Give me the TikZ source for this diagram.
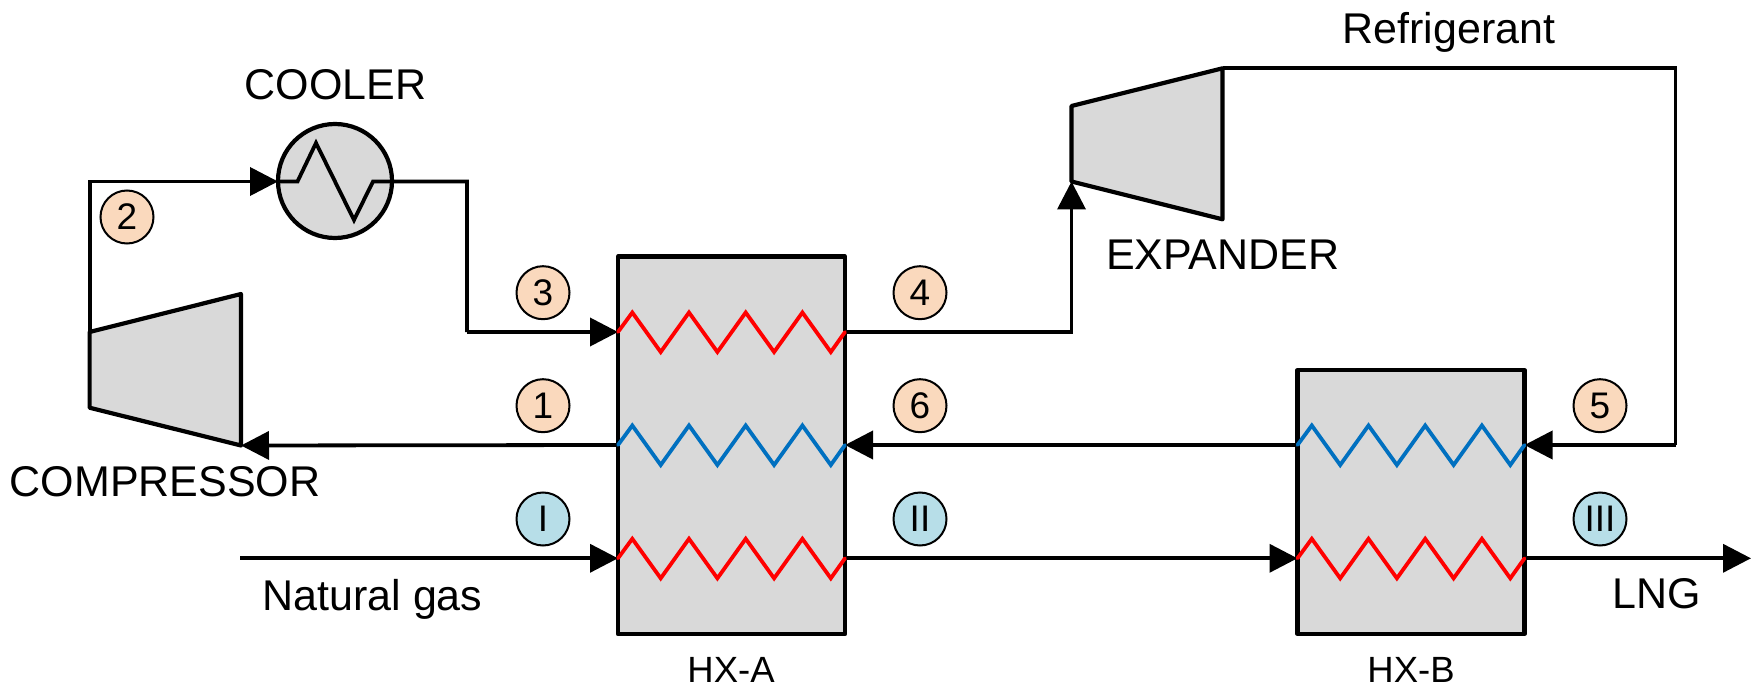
\documentclass[tikz,border=0pt]{standalone}
\usepackage{fontspec}
\setmainfont{Liberation Sans}
\usetikzlibrary{arrows.meta}
\definecolor{eqgray}{HTML}{D9D9D9}
\definecolor{tagorange}{HTML}{FAD9BD}
\definecolor{tagblue}{HTML}{B7DEE8}
\definecolor{zigred}{HTML}{FF0000}
\definecolor{zigblue}{HTML}{0070C0}
\tikzset{
  eqline/.style={draw=black,line width=4.2pt,line join=round,fill=eqgray},
  hxbox/.style={eqline,rectangle,inner sep=0pt,minimum width=227pt},
  pipe/.style={draw=black,line width=3.8pt,line join=miter},
  flow/.style={pipe,-{Triangle[length=28pt,width=28pt]}},
  zig/.style={line width=3.8pt,line join=miter,line cap=round},
  tagbase/.style={circle,draw=black,line width=2pt,minimum size=53pt,inner sep=0pt,font=\fontsize{37}{37}\selectfont},
  tagcycle/.style={tagbase,fill=tagorange},
  taggas/.style={tagbase,fill=tagblue},
  biglabel/.style={anchor=base,inner sep=0pt,font=\fontsize{43}{43}\selectfont},
  smalllabel/.style={anchor=base,inner sep=0pt,font=\fontsize{36.5}{36.5}\selectfont}
}
\newcommand{\zigpath}[2]{%
  \draw[zig,#2] (#1) -- ++(14.3,-19.5) -- ++(28.4,39.5) -- ++(28.3,-39.5) -- ++(28.4,39.5) -- ++(28.3,-39.5) -- ++(28.4,39.5) -- ++(28.3,-39.5) -- ++(28.4,39.5) -- ++(14.2,-20);}
\begin{document}
\begin{tikzpicture}[x=1pt,y=-1pt]
\useasboundingbox (0,0) rectangle (1757,687);
% equipment
\node[hxbox,minimum height=377.5pt] (hxa) at (731.5,445.3) {};
\node[hxbox,minimum height=264pt] (hxb) at (1411,502) {};
\coordinate (cpTL) at (89.6,332);
\coordinate (cpTR) at (241,294);
\coordinate (cpBR) at (241,445.5);
\coordinate (cpBL) at (89.6,407.7);
\coordinate (exTL) at (1071.5,106);
\coordinate (exTR) at (1222.5,68.3);
\coordinate (exBR) at (1222.5,219.3);
\coordinate (exBL) at (1071.5,181.5);
\draw[eqline] (cpTL) -- (cpTR) -- (cpBR) -- (cpBL) -- cycle;
\draw[eqline] (exTL) -- (exTR) -- (exBR) -- (exBL) -- cycle;
\node[circle,eqline,minimum size=114pt,inner sep=0pt] (cooler) at (335,181) {};
% ports
\coordinate (aL1) at (618,332);
\coordinate (aR1) at (845,332);
\coordinate (aL2) at (618,445);
\coordinate (aR2) at (845,445);
\coordinate (aL3) at (618,558.3);
\coordinate (aR3) at (845,558.3);
\coordinate (bL2) at (1297.5,445);
\coordinate (bR2) at (1524.5,445);
\coordinate (bL3) at (1297.5,558.3);
\coordinate (bR3) at (1524.5,558.3);
\coordinate (gasin) at (240,558.3);
\coordinate (lngout) at (1751,558.3);
\coordinate (c1) at (467,181.5);
\coordinate (c2) at (467,332);
\coordinate (c3) at (1071.5,332);
\coordinate (c4) at (1675.5,68.3);
\coordinate (c5) at (1675.5,445);
\coordinate (c6) at (89.6,181.5);
\coordinate (cin) at (278,181.5);
\coordinate (coA) at (297.5,181.5);
\coordinate (coB) at (316,143);
\coordinate (coC) at (354,220);
\coordinate (coD) at (373,181.5);
\coordinate (coE) at (392,181.5);
% connectors
\draw[flow] (cpTL) -- (c6) -- (cin);
\draw[pipe] (cin) -- (coA) -- (coB) -- (coC) -- (coD) -- (coE) -- (c1) -- (c2);
\draw[flow] (c2) -- (aL1);
\draw[flow] (aR1) -- (c3) -- (exBL);
\draw[pipe] (exTR) -- (c4) -- (c5);
\draw[flow] (c5) -- (bR2);
\draw[flow] (bL2) -- (aR2);
\draw[flow] (aL2) -- (cpBR);
\draw[flow] (gasin) -- (aL3);
\draw[flow] (aR3) -- (bL3);
\draw[flow] (bR3) -- (lngout);
% coils
\zigpath{aL1}{zigred}
\zigpath{aL2}{zigblue}
\zigpath{aL3}{zigred}
\zigpath{bL2}{zigblue}
\zigpath{bL3}{zigred}
% tags
\node[tagcycle] (t2) at (127,217) {2};
\node[tagcycle] (t3) at (543,292.7) {3};
\node[tagcycle] (t1) at (543,405.7) {1};
\node[tagcycle] (t4) at (920,292.7) {4};
\node[tagcycle] (t6) at (920,405.7) {6};
\node[tagcycle] (t5) at (1600,405.7) {5};
\node[taggas] (tI) at (543,519) {I};
\node[taggas] (tII) at (920,519) {II};
\node[taggas] (tIII) at (1600,519) {III};
% labels
\node[biglabel] (lcooler) at (335.5,100) {COOLER};
\node[biglabel] (lcomp) at (165,496) {COMPRESSOR};
\node[biglabel] (lexp) at (1222.7,269.3) {EXPANDER};
\node[biglabel] (lref) at (1449,43.3) {Refrigerant};
\node[biglabel] (lgas) at (372.5,610) {Natural gas};
\node[biglabel] (llng) at (1656.7,608) {LNG};
\node[smalllabel] (lhxa) at (731,682.7) {HX-A};
\node[smalllabel] (lhxb) at (1411,682.7) {HX-B};
\end{tikzpicture}
\end{document}
